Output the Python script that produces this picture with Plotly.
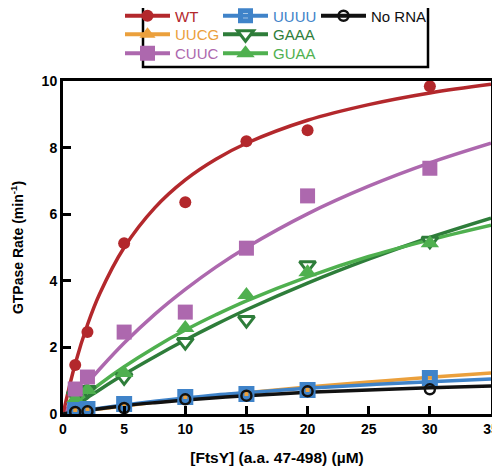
import plotly.graph_objects as go

# ---- data ----
conc = [1, 2, 5, 10, 15, 20, 30]
wt = [1.47, 2.46, 5.13, 6.36, 8.19, 8.52, 9.84]
uucg = [0.08, 0.10, 0.20, 0.48, 0.58, 0.72, 1.10]
cuuc = [0.75, 1.11, 2.46, 3.06, 4.98, 6.55, 7.38]
uuuu = [0.12, 0.15, 0.30, 0.51, 0.60, 0.72, 1.08]
gaaa = [0.55, 0.72, 1.10, 2.16, 2.82, 4.47, 5.20]
guaa = [0.45, 0.72, 1.23, 2.58, 3.57, 4.26, 5.13]
norna = [0.06, 0.08, 0.18, 0.44, 0.55, 0.68, 0.74]

# fitted curves
fit_x = [0, 1, 2, 3, 5, 7.5, 10, 12.5, 15, 20, 25, 30, 35]
fit_wt = [0, 1.51, 2.68, 3.61, 5.00, 6.19, 7.03, 7.65, 8.13, 8.82, 9.29, 9.64, 9.90]
fit_cuuc = [0, 0.48, 0.93, 1.35, 2.13, 2.99, 3.74, 4.41, 5.00, 6.01, 6.84, 7.54, 8.13]
fit_gaaa = [0, 0.25, 0.49, 0.73, 1.19, 1.72, 2.22, 2.69, 3.13, 3.93, 4.65, 5.30, 5.88]
fit_guaa = [0, 0.32, 0.61, 0.90, 1.42, 2.00, 2.52, 2.98, 3.40, 4.12, 4.73, 5.23, 5.67]
fit_uucg = [0, 0.05, 0.10, 0.15, 0.24, 0.35, 0.45, 0.55, 0.64, 0.81, 0.96, 1.10, 1.23]
fit_uuuu = [0, 0.06, 0.12, 0.17, 0.27, 0.38, 0.48, 0.57, 0.64, 0.77, 0.88, 0.97, 1.05]
fit_norna = [0, 0.06, 0.11, 0.16, 0.25, 0.34, 0.42, 0.49, 0.55, 0.65, 0.72, 0.79, 0.84]

C_WT = "#b3282c"
C_UUCG = "#eba03c"
C_CUUC = "#ad68ae"
C_UUUU = "#3f83c9"
C_GAAA = "#2e7d3a"
C_GUAA = "#4fb04f"
C_NO = "#111111"

# name -> (color, points, fit, symbol, size, fill, outline, outline width, legend)
series = {
    "WT": (C_WT, wt, fit_wt, "circle", 12, C_WT, C_WT, 0, "legend"),
    "UUUU": (C_UUUU, uuuu, fit_uuuu, "square-open", 10, C_UUUU, C_UUUU, 6, "legend"),
    "No RNA": (C_NO, norna, fit_norna, "circle-open", 10, C_NO, C_NO, 2.5, "legend4"),
    "UUCG": (C_UUCG, uucg, fit_uucg, "triangle-up", 14, C_UUCG, C_UUCG, 0, "legend2"),
    "GAAA": (C_GAAA, gaaa, fit_gaaa, "triangle-down", 14, "white", C_GAAA, 3, "legend2"),
    "CUUC": (C_CUUC, cuuc, fit_cuuc, "square", 15, C_CUUC, C_CUUC, 0, "legend3"),
    "GUAA": (C_GUAA, guaa, fit_guaa, "triangle-up", 16, C_GUAA, C_GUAA, 0, "legend3"),
}

fig = go.Figure()

for nm in ["GAAA", "GUAA", "CUUC", "WT", "UUCG", "UUUU", "No RNA"]:
    col, pts, fit, sym, sz, fill, oc, ow, lg = series[nm]
    fig.add_trace(go.Scatter(x=fit_x, y=fit, mode="lines",
                             line=dict(color=col, width=3.5, shape="spline"),
                             showlegend=False, hoverinfo="skip"))

for nm in ["GAAA", "GUAA", "CUUC", "WT", "UUCG", "UUUU", "No RNA"]:
    col, pts, fit, sym, sz, fill, oc, ow, lg = series[nm]
    size = 10 if nm == "UUCG" else sz
    fig.add_trace(go.Scatter(x=conc, y=pts, mode="markers",
                             marker=dict(symbol=sym, size=size, color=fill, line=dict(color=oc, width=ow)),
                             showlegend=False))

for nm in ["WT", "UUUU", "No RNA", "UUCG", "GAAA", "CUUC", "GUAA"]:
    col, pts, fit, sym, sz, fill, oc, ow, lg = series[nm]
    fig.add_trace(go.Scatter(x=[None], y=[None], mode="lines+markers", legend=lg,
                             name=f"<span style='color:{col}'>{nm}</span>",
                             line=dict(color=col, width=4),
                             marker=dict(symbol=sym, size=sz, color=fill, line=dict(color=oc, width=ow))))

# page body has an 8px offset; plot area on screen: x 63..491, y 81..414
OFF = 8
W, H = 500 - OFF, 471 - OFF


def px(x):
    return (x - 63) / 428


def py(y):
    return (414 - y) / 333


leg_common = dict(orientation="h", xanchor="left", yanchor="middle", bgcolor="rgba(0,0,0,0)",
                  borderwidth=0, font=dict(size=15), itemwidth=45)
row_cols = dict(entrywidth=38, entrywidthmode="pixels")

fig.update_layout(
    width=W, height=H,
    margin=dict(l=63 - OFF, r=W - (491 - OFF), t=81 - OFF, b=H - (414 - OFF), autoexpand=False),
    paper_bgcolor="white", plot_bgcolor="white",
    font=dict(family="Liberation Sans, Arial, sans-serif", color="black"),
    showlegend=True,
    legend=dict(**leg_common, **row_cols, x=px(120), y=py(16)),
    legend4=dict(**leg_common, x=px(316), y=py(16)),
    legend2=dict(**leg_common, **row_cols, x=px(120), y=py(34.5)),
    legend3=dict(**leg_common, **row_cols, x=px(120), y=py(53.5)),
    shapes=[dict(type="rect", xref="paper", yref="paper", x0=px(143), x1=px(428), y0=py(67), y1=py(-2),
                 line=dict(color="black", width=2.5), fillcolor="rgba(0,0,0,0)", layer="above")],
    xaxis=dict(range=[0, 35], tickvals=[0, 5, 10, 15, 20, 25, 30, 35], ticks="inside", ticklen=8, tickwidth=3,
               tickcolor="black", showline=True, linewidth=3, linecolor="black", mirror=True,
               showgrid=False, zeroline=False, ticklabeloverflow="allow", automargin=False,
               tickfont=dict(size=14, weight="bold"),
               title=dict(text="[FtsY] (a.a. 47-498) (µM)", font=dict(size=15.5, weight="bold"), standoff=17)),
    yaxis=dict(range=[0, 10], tickvals=[0, 2, 4, 6, 8, 10], ticks="inside", ticklen=8, tickwidth=3,
               tickcolor="black", showline=True, linewidth=3, linecolor="black", mirror=True,
               showgrid=False, zeroline=False, ticklabeloverflow="allow", automargin=False,
               tickfont=dict(size=14, weight="bold"),
               title=dict(text="GTPase Rate (min<sup>-1</sup>)", font=dict(size=14, weight="bold"), standoff=21)),
)

fig.write_html("out.html")
